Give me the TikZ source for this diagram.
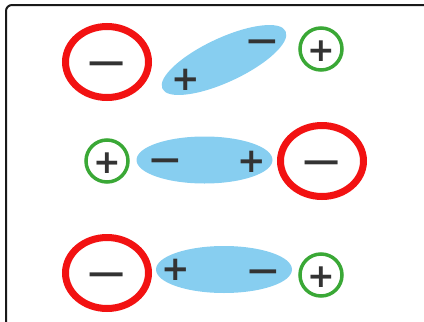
\documentclass[tikz,border=0pt]{standalone}
\usepackage{fontspec,graphicx}
\usetikzlibrary{shapes.geometric}
\newfontfamily\signfont{DejaVu Sans}

\definecolor{anionred}{HTML}{F21212}
\definecolor{cationgreen}{HTML}{3AA836}
\definecolor{dipoleblue}{HTML}{87CEF0}
\definecolor{signgray}{HTML}{333333}

\tikzset{
	anion/.style={ellipse,draw=anionred,line width=7pt,minimum width=83pt,minimum height=71pt,inner sep=0pt,
		font=\signfont\bfseries\fontsize{34}{34}\selectfont,text=signgray,text height=25pt,text depth=0pt},
	cation/.style={circle,draw=cationgreen,line width=3.5pt,minimum size=42pt,inner sep=0pt,
		font=\signfont\bfseries\fontsize{33}{33}\selectfont,text=signgray,text height=24.2pt,text depth=0pt},
	dipole/.style={ellipse,fill=dipoleblue,minimum width=136pt,minimum height=47pt,inner sep=0pt},
	charge/.style={inner sep=0pt,font=\signfont\bfseries\fontsize{34}{34}\selectfont,text=signgray,
		text height=25pt,text depth=0pt}
}

\begin{document}
\begin{tikzpicture}[x=1pt,y=-1pt]
		\useasboundingbox (0,0) rectangle (424,322);
		\clip (0,0) rectangle (424,322);
		\draw[line width=2pt,rounded corners=6pt,color=black!90] (6,340) |- (440,5);
		
		% ion - dipole - ion, slanted
		\node[anion] (an1) at (107,62) {\scalebox{1.55}[1]{−}};
		\node[dipole,minimum height=44pt,rotate=25] (dp1) at (224,60) {};
		\node[charge] (dp1p) at (186,78) {+};
		\node[charge] (dp1m) at (262,40) {\scalebox{1.25}[1]{−}};
		\node[cation] (ca1) at (321,49) {+};
		
		% cation left, anion right
		\node[cation] (ca2) at (107,161) {+};
		\node[dipole] (dp2) at (204.5,160) {};
		\node[charge] (dp2m) at (165,159) {\scalebox{1.25}[1]{−}};
		\node[charge] (dp2p) at (252,160) {+};
		\node[anion] (an2) at (322,161) {\scalebox{1.55}[1]{−}};
		
		% anion left, cation right
		\node[anion] (an3) at (107,273) {\scalebox{1.55}[1]{−}};
		\node[dipole] (dp3) at (224,269.5) {};
		\node[charge] (dp3p) at (176,268) {+};
		\node[charge] (dp3m) at (263,270) {\scalebox{1.25}[1]{−}};
		\node[cation] (ca3) at (321,275) {+};
\end{tikzpicture}
\end{document}
